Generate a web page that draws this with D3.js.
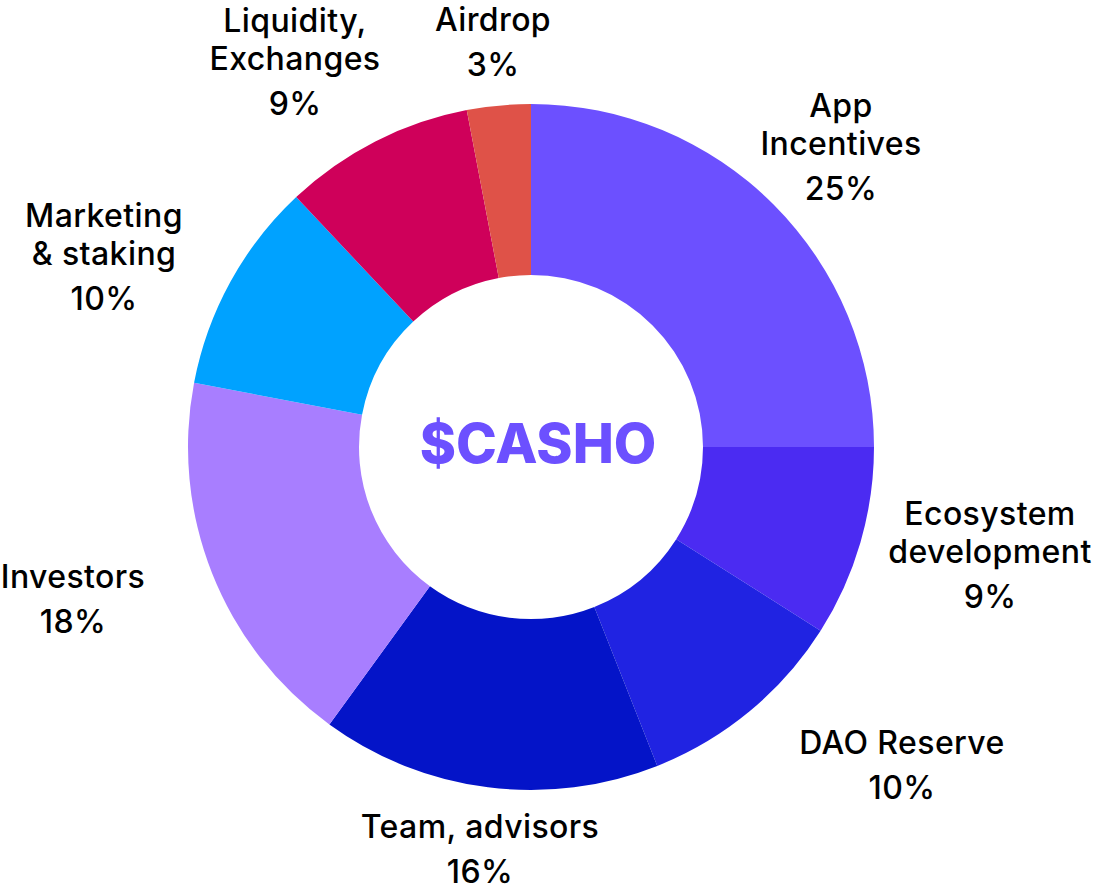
<!DOCTYPE html>
<html>
<head>
<meta charset="utf-8">
<script src="https://cdn.jsdelivr.net/npm/d3@7"></script>
<style>
  body { margin: 0; background: #fff; }
  svg { display: block; }
</style>
</head>
<body>
<div id="chart"></div>
<script>
// token allocation, clockwise from 12 o'clock
const names = [
  ["App", "Incentives"],
  ["Ecosystem", "development"],
  ["DAO Reserve"],
  ["Team, advisors"],
  ["Investors"],
  ["Marketing", "& staking"],
  ["Liquidity,", "Exchanges"],
  ["Airdrop"]
];
const shares = [25, 9, 10, 16, 18, 10, 9, 3];
const colors = ["#6c50ff", "#4b2bf2", "#2023e2", "#0414c8", "#a87eff", "#00a2ff", "#cf005a", "#df5248"];

// label anchors (centre x, first baseline y) - hand placed like the original
const labelPos = [
  [841, 117], [990, 525], [902, 754], [480, 838],
  [73, 588], [104, 227], [295, 32], [493, 31]
];

const width = 1099;
const height = 892;
const cx = 531, cy = 447;
const outerR = 343, innerR = 172;

const svg = d3.select("#chart")
  .append("svg")
  .attr("width", width)
  .attr("height", height);

const pie = d3.pie().sort(null).value(d => d);
const arc = d3.arc().innerRadius(innerR).outerRadius(outerR);

const g = svg.append("g").attr("transform", `translate(${cx},${cy})`);

g.selectAll("path")
  .data(pie(shares))
  .enter()
  .append("path")
  .attr("d", arc)
  .style("fill", (d, i) => colors[i]);

g.append("text")
  .attr("x", 7)
  .attr("y", 16)
  .attr("text-anchor", "middle")
  .style("font-family", "Inter, sans-serif")
  .style("font-weight", 800)
  .style("font-size", "55px")
  .style("fill", "#6c50ff")
  .text("$CASHO");

const labels = svg.selectAll("text.lbl")
  .data(names)
  .enter()
  .append("text")
  .attr("class", "lbl")
  .attr("text-anchor", "middle")
  .style("font-family", "Inter, sans-serif")
  .style("font-weight", 500)
  .style("font-size", "32px")
  .style("letter-spacing", "0.4px")
  .style("fill", "#000");

labels.each(function(lines, i) {
  const t = d3.select(this);
  const [x, y] = labelPos[i];
  lines.forEach((line, j) => {
    t.append("tspan").attr("x", x).attr("y", y + j * 38).text(line);
  });
  t.append("tspan")
    .attr("x", x)
    .attr("y", y + (lines.length - 1) * 38 + 45)
    .text(shares[i] + "%");
});
</script>
</body>
</html>
